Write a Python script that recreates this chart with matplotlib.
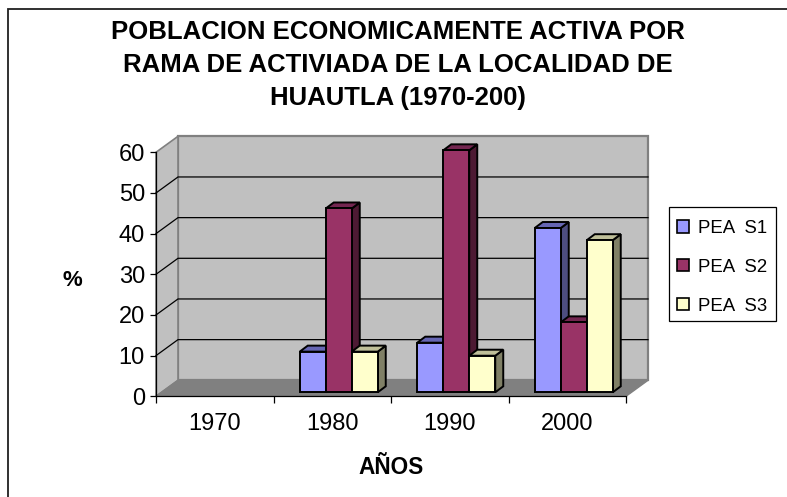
import numpy as np
import matplotlib
matplotlib.use("Agg")
import matplotlib.pyplot as plt
from matplotlib.lines import Line2D
from matplotlib.patches import Polygon, Rectangle, Patch

plt.rcParams['font.family'] = ['Liberation Sans', 'DejaVu Sans']

# === DATA ===
years = ['1970', '1980', '1990', '2000']
pea_s1 = [0, 10, 12.2, 40.4]
pea_s2 = [0, 45.2, 59.5, 17.2]
pea_s3 = [0, 10, 9, 37.4]
series_names = ['PEA  S1', 'PEA  S2', 'PEA  S3']
y_ticks = [0, 10, 20, 30, 40, 50, 60]

# front, top, side colours
colors = [('#9999ff', '#6666b3', '#4d4d80'),
          ('#993366', '#732650', '#4d1a33'),
          ('#ffffcc', '#bfbf99', '#808066')]

W, H = 787, 497
fig = plt.figure(figsize=(W / 100, H / 100), dpi=100)
ax = fig.add_axes([156 / W, 1 - 396.3 / H, 470 / W, 244 / H])
ax.set_xlim(0, 4)
ax.set_ylim(0, 60)
ax.patch.set_visible(False)

# 3D offsets converted from pixels to data units
ux = 4 / 470
uy = 60 / 244
wall_dx, wall_dy = 22 * ux, 16 * uy
bar_dx, bar_dy = 6.5 * ux, 4 * uy
depth_dx, depth_dy = 8 * ux, 6 * uy
bar_w = 26 * ux

# back and side walls, floor
ax.add_patch(Rectangle((wall_dx, wall_dy), 4, 60, fc='#c0c0c0', ec='#808080', lw=1.6, clip_on=False, zorder=1))
ax.add_patch(Polygon([(0, 0), (wall_dx, wall_dy), (wall_dx, 60 + wall_dy), (0, 60)],
                     fc='#c0c0c0', ec='#808080', lw=1.2, clip_on=False, zorder=1))
ax.add_patch(Polygon([(0, 0), (4, 0), (4 + wall_dx, wall_dy), (wall_dx, wall_dy)],
                     fc='#808080', ec='#808080', lw=1, clip_on=False, zorder=1))

# gridlines, running along the side wall and then the back wall
for t in y_ticks[1:-1]:
    ax.plot([0, wall_dx, 4 + wall_dx], [t, t + wall_dy, t + wall_dy], color='black', lw=0.9,
            clip_on=False, zorder=2, solid_joinstyle='miter')

# bars
for i in range(len(years)):
    vals = [pea_s1[i], pea_s2[i], pea_s3[i]]
    for j, v in enumerate(vals):
        if v == 0:
            continue
        x0 = i + 0.5 + (j - 1.5) * bar_w + bar_dx
        x1 = x0 + bar_w
        y0 = bar_dy
        y1 = v + bar_dy
        z = 3 + j * 0.1
        ax.add_patch(Polygon([(x1, y0), (x1 + depth_dx, y0 + depth_dy), (x1 + depth_dx, y1 + depth_dy), (x1, y1)],
                             fc=colors[j][2], ec='black', lw=1.4, clip_on=False, zorder=z))
        ax.add_patch(Polygon([(x0, y1), (x1, y1), (x1 + depth_dx, y1 + depth_dy), (x0 + depth_dx, y1 + depth_dy)],
                             fc=colors[j][1], ec='black', lw=1.4, clip_on=False, zorder=z))
        ax.bar(x0, v, bar_w, bottom=bar_dy, align='edge', color=colors[j][0], edgecolor='black',
               lw=1.4, clip_on=False, zorder=z + 0.01)

# axes
for s in ['top', 'right']:
    ax.spines[s].set_visible(False)
for s in ['left', 'bottom']:
    ax.spines[s].set_linewidth(0.9)
    ax.spines[s].set_zorder(2.5)
ax.set_yticks(y_ticks)
ax.set_xticks(range(5))
ax.set_xticklabels([])
ax.set_xticks([0.5, 1.5, 2.5, 3.5], minor=True)
ax.set_xticklabels(years, minor=True, fontsize=17)
ax.tick_params(axis='x', which='major', length=4.7, width=0.9, direction='out')
ax.tick_params(axis='x', which='minor', length=0, pad=12)
ax.tick_params(axis='y', which='major', length=4, width=0.9, pad=4, labelsize=17)

ax.set_xlabel('AÑOS', fontsize=16.3, fontweight='bold', va='center')
ax.xaxis.set_label_coords(0.5, -(468 - 396.3) / 244)
fig.text(72 / W, 1 - 281 / H, '%', fontsize=16, fontweight='bold', ha='center', va='center')

fig.text(398 / W, 1 - 65 / H,
         'POBLACION ECONOMICAMENTE ACTIVA POR\nRAMA DE ACTIVIADA DE LA LOCALIDAD DE\nHUAUTLA (1970-200)',
         fontsize=18.5, fontweight='bold', ha='center', va='center', linespacing=1.48)

# legend: box drawn separately because its padding differs by side
fig.add_artist(Rectangle((669.3 / W, 1 - 320.7 / H), 106.4 / W, 114 / H, transform=fig.transFigure,
                         fc='white', ec='black', lw=0.9, zorder=1))
handles = [Patch(fc=c[0], ec='black', lw=1.2) for c in colors]
leg = fig.legend(handles, series_names, loc='upper left', bbox_to_anchor=(677 / W, 1 - 220 / H),
                 borderaxespad=0, frameon=False, fontsize=13.4, handlelength=0.65, handleheight=0.65,
                 handletextpad=0.5, labelspacing=1.17, borderpad=0)
leg.set_zorder(2)

# chart border: only the top and left edges fall inside the picture
fig.add_artist(Line2D([8 / W, 8 / W, 1], [0, 1 - 9 / H, 1 - 9 / H], transform=fig.transFigure,
                      color='#202020', lw=1.3, solid_joinstyle='miter'))

fig.savefig('out.png', dpi=100)
